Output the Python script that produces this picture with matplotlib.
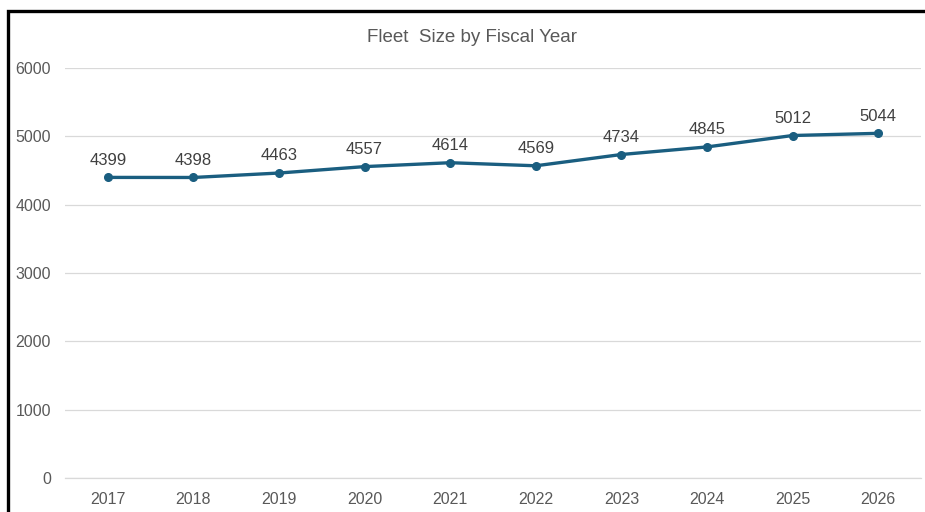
import matplotlib.pyplot as plt
from matplotlib.patches import Rectangle

# data
years = ["2017", "2018", "2019", "2020", "2021", "2022", "2023", "2024", "2025", "2026"]
fleet = [4399, 4398, 4463, 4557, 4614, 4569, 4734, 4845, 5012, 5044]

plt.rcParams['font.family'] = ['Liberation Sans', 'DejaVu Sans']
txt = "#595959"
line_c = "#1a5e80"

fig = plt.figure(figsize=(9.25, 5.12), dpi=100)
ax = fig.add_axes([65 / 925, 1 - 478 / 512, (921 - 65) / 925, (478 - 68) / 512])

x = range(len(years))
ax.plot(x, fleet, color=line_c, lw=2.4, marker="o", ms=5.5, zorder=3)
for i, v in zip(x, fleet):
    ax.annotate(str(v), (i, v), xytext=(0, 7), textcoords="offset points",
                ha="center", va="bottom", fontsize=12, color="#404040")

ax.set_xlim(-0.5, len(years) - 0.5)
ax.set_ylim(0, 6000)
ax.set_yticks(range(0, 6001, 1000))
ax.set_xticks(list(x))
ax.set_xticklabels(years)
ax.grid(axis="y", color="#d9d9d9", lw=0.9)
ax.axhline(0, color="#d9d9d9", lw=0.9, clip_on=False, zorder=0)
ax.set_axisbelow(True)
for s in ax.spines.values():
    s.set_visible(False)
ax.tick_params(length=0, colors=txt, labelsize=11.5, pad=10)
ax.tick_params(axis="y", pad=10)

fig.text(472 / 925, 1 - 37 / 512, "Fleet  Size by Fiscal Year", ha="center", va="center",
         fontsize=13.5, color=txt)

# black frame (top and left edges of screenshot)
fig.add_artist(Rectangle((7.5 / 925, -0.1), 1.0, 1 - 11 / 512 + 0.1, transform=fig.transFigure,
                         fill=False, ec="black", lw=2.4))

fig.savefig("out.png", dpi=100, facecolor="white")
